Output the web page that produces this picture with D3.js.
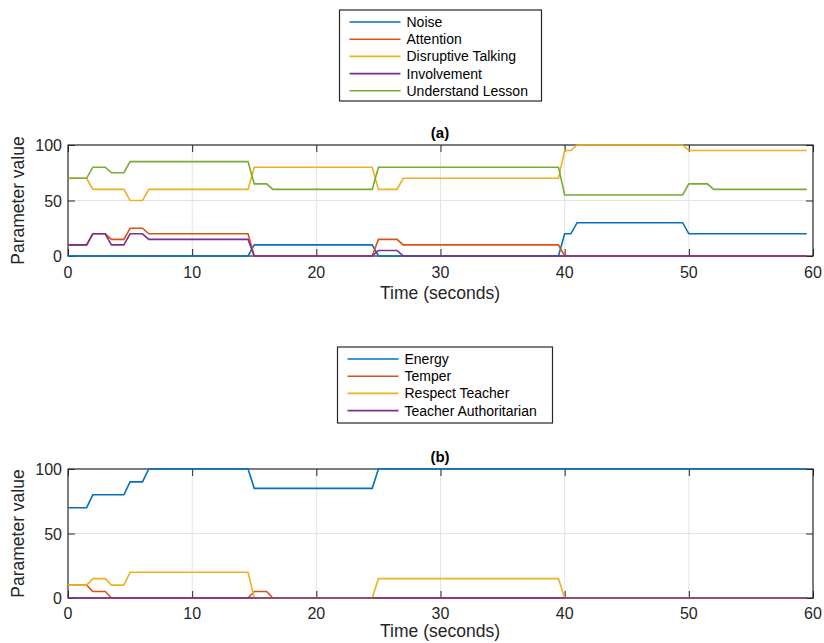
<!DOCTYPE html>
<html lang="en">
<head>
<meta charset="UTF-8">
<title>Parameter values</title>
<script src="https://d3js.org/d3.v7.min.js"></script>
<style>
    body { margin: 0; background: #fff; }
    svg { font-family: "Liberation Sans", Arial, sans-serif; }
</style>
</head>
<body>
<div class="container"></div>
<script>
    // breakpoints [time (s), value] for panel (a)
    const noise = [[0,0],[14.5,0],[15,10],[24.5,10],[25,0],[39.5,0],[40,20],[40.5,20],[41,30],[49.5,30],[50,20],[59.5,20]];
    const attention = [[0,10],[1.5,10],[2,20],[3,20],[3.5,15],[4.5,15],[5,25],[6,25],[6.5,20],[14.5,20],[15,0],[24.5,0],[25,15],[26.5,15],[27,10],[39.5,10],[40,0],[59.5,0]];
    const disruptive = [[0,70],[1.5,70],[2,60],[4.5,60],[5,50],[6,50],[6.5,60],[14.5,60],[15,80],[24.5,80],[25,60],[26.5,60],[27,70],[39.5,70],[40,95],[40.5,95],[41,100],[49.5,100],[50,95],[59.5,95]];
    const involvement = [[0,10],[1.5,10],[2,20],[3,20],[3.5,10],[4.5,10],[5,20],[6,20],[6.5,15],[14.5,15],[15,0],[24.5,0],[25,5],[26.5,5],[27,0],[59.5,0]];
    const understand = [[0,70],[1.5,70],[2,80],[3,80],[3.5,75],[4.5,75],[5,85],[14.5,85],[15,65],[16,65],[16.5,60],[24.5,60],[25,80],[39.5,80],[40,55],[49.5,55],[50,65],[51.5,65],[52,60],[59.5,60]];

    // breakpoints for panel (b)
    const energy = [[0,70],[1.5,70],[2,80],[4.5,80],[5,90],[6,90],[6.5,100],[14.5,100],[15,85],[24.5,85],[25,100],[59.5,100]];
    const temper = [[0,10],[1.5,10],[2,5],[3,5],[3.5,0],[14.5,0],[15,5],[16,5],[16.5,0],[59.5,0]];
    const respect = [[0,10],[1.5,10],[2,15],[3,15],[3.5,10],[4.5,10],[5,20],[14.5,20],[15,0],[24.5,0],[25,15],[39.5,15],[40,0],[59.5,0]];
    const authoritarian = [[0,0],[59.5,0]];

    const namesA = ["Noise", "Attention", "Disruptive Talking", "Involvement", "Understand Lesson"];
    const namesB = ["Energy", "Temper", "Respect Teacher", "Teacher Authoritarian"];
    const xTicks = [0, 10, 20, 30, 40, 50, 60];
    const yTicks = [0, 50, 100];
    const colors = ["#0072BD", "#D95319", "#EDB120", "#7E2F8E", "#77AC30"];

    const svg = d3.select(".container").append("svg")
        .attr("width", 824).attr("height", 643);

    function panel(cfg) {
        const x = d3.scaleLinear().domain([0, 60]).range([68, 813]);
        const y = d3.scaleLinear().domain([0, 100]).range([cfg.bottom, cfg.top]);
        const g = svg.append("g");

        // grid
        g.selectAll(".gx").data(xTicks.slice(1, -1)).join("line")
            .attr("x1", d => x(d)).attr("x2", d => x(d))
            .attr("y1", cfg.top).attr("y2", cfg.bottom)
            .attr("stroke", "#e3e3e3").attr("stroke-width", 1);
        g.append("line")
            .attr("x1", 68).attr("x2", 813).attr("y1", y(50)).attr("y2", y(50))
            .attr("stroke", "#e3e3e3").attr("stroke-width", 1);

        // ticks on all four sides, pointing inward
        g.append("g").attr("transform", `translate(0,${cfg.bottom})`)
            .call(d3.axisTop(x).tickValues(xTicks).tickSize(7).tickFormat(""))
            .call(s => s.select(".domain").remove());
        g.append("g").attr("transform", `translate(0,${cfg.top})`)
            .call(d3.axisBottom(x).tickValues(xTicks).tickSize(7).tickFormat(""))
            .call(s => s.select(".domain").remove());
        g.append("g").attr("transform", "translate(68,0)")
            .call(d3.axisRight(y).tickValues(yTicks).tickSize(7).tickFormat(""))
            .call(s => s.select(".domain").remove());
        g.append("g").attr("transform", "translate(813,0)")
            .call(d3.axisLeft(y).tickValues(yTicks).tickSize(7).tickFormat(""))
            .call(s => s.select(".domain").remove());
        g.selectAll(".tick line").attr("stroke", "#262626");

        g.append("rect")
            .attr("x", 68).attr("y", cfg.top)
            .attr("width", 813 - 68).attr("height", cfg.bottom - cfg.top)
            .attr("fill", "none").attr("stroke", "#262626").attr("stroke-width", 1.2);

        // tick labels
        g.selectAll(".xl").data(xTicks).join("text")
            .attr("x", d => x(d)).attr("y", cfg.bottom + cfg.tickGap)
            .attr("text-anchor", "middle").attr("font-size", 16).attr("fill", "#262626")
            .text(d => d);
        g.selectAll(".yl").data(yTicks).join("text")
            .attr("x", 62).attr("y", d => y(d) + 6)
            .attr("text-anchor", "end").attr("font-size", 16).attr("fill", "#262626")
            .text(d => d);

        g.append("text").attr("x", 440).attr("y", cfg.bottom + cfg.labelGap)
            .attr("text-anchor", "middle").attr("font-size", 17.5).attr("fill", "#262626")
            .text("Time (seconds)");
        g.append("text")
            .attr("transform", `translate(24,${(cfg.top + cfg.bottom) / 2}) rotate(-90)`)
            .attr("text-anchor", "middle").attr("font-size", 17.5).attr("fill", "#262626")
            .text("Parameter value");
        g.append("text").attr("x", 440).attr("y", cfg.top - 7)
            .attr("text-anchor", "middle").attr("font-size", 15).attr("font-weight", "bold")
            .text(cfg.title);

        // data lines
        const line = d3.line().x(d => x(d[0])).y(d => y(d[1]));
        g.selectAll(".series").data(cfg.series).join("path")
            .attr("d", line)
            .attr("fill", "none")
            .attr("stroke", (d, i) => colors[i])
            .attr("stroke-width", 1.6);

        // legend
        const L = cfg.legend;
        const lg = svg.append("g");
        lg.append("rect").attr("x", L.x).attr("y", L.y).attr("width", L.w).attr("height", L.h)
            .attr("fill", "#fff").attr("stroke", "#262626").attr("stroke-width", 1.2);
        const rows = lg.selectAll(".row").data(cfg.names).join("g")
            .attr("transform", (d, i) => `translate(0,${L.y + 12 + i * 17.2})`);
        rows.append("line").attr("x1", L.x + 10).attr("x2", L.x + 61)
            .attr("stroke", (d, i) => colors[i]).attr("stroke-width", 1.6);
        rows.append("text").attr("x", L.x + 67).attr("y", 5)
            .attr("font-size", 14).attr("fill", "#000").text(d => d);
    }

    panel({
        top: 145, bottom: 256, title: "(a)", tickGap: 22, labelGap: 43,
        series: [noise, attention, disruptive, involvement, understand],
        names: namesA,
        legend: { x: 339.5, y: 10, w: 202, h: 91 }
    });
    panel({
        top: 469, bottom: 598, title: "(b)", tickGap: 21, labelGap: 39,
        series: [energy, temper, respect, authoritarian],
        names: namesB,
        legend: { x: 337.5, y: 347, w: 215, h: 76 }
    });
</script>
</body>
</html>
